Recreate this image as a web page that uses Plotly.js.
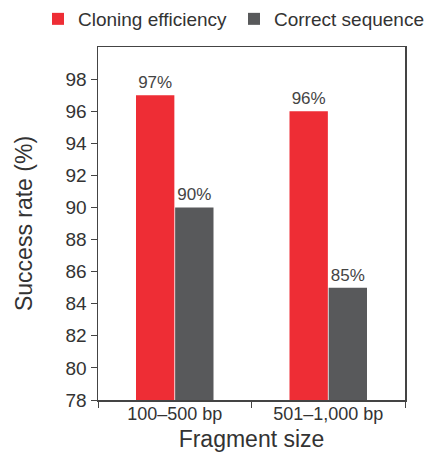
<!DOCTYPE html>
<html>
<head>
<meta charset="utf-8">
<script src="https://cdn.plot.ly/plotly-3.0.1.min.js"></script>
<style>html,body{margin:0;padding:0;background:#fff;}#chart{width:425px;height:461px;}</style>
</head>
<body>
<div id="chart"></div>
<script>
var categories = ["100–500 bp", "501–1,000 bp"];
var seriesNames = ["Cloning efficiency", "Correct sequence"];
var cloningEfficiency = [97, 96];
var correctSequence = [90, 85];
var yTicks = [78, 80, 82, 84, 86, 88, 90, 92, 94, 96, 98];

var fontFam = "Liberation Sans, Arial, sans-serif";
function pct(arr){ return arr.map(function(v){ return v + "%"; }); }

var traces = [
  {type: "bar", name: seriesNames[0], x: categories, y: cloningEfficiency, legend: "legend",
   marker: {color: "#EE2D35"}, text: pct(cloningEfficiency), textposition: "outside",
   cliponaxis: false, textfont: {size: 17, color: "#444", family: fontFam}},
  {type: "bar", name: seriesNames[1], x: categories, y: correctSequence, legend: "legend2",
   marker: {color: "#58595B"}, text: pct(correctSequence), textposition: "outside",
   cliponaxis: false, textfont: {size: 17, color: "#444", family: fontFam}}
];

function legendAt(xpx) {
  return {orientation: "h", xref: "container", yref: "container",
          x: xpx / 425, xanchor: "left", y: 1.0, yanchor: "top",
          font: {size: 19, color: "#333"}, itemwidth: 30, itemclick: false,
          bgcolor: "rgba(0,0,0,0)"};
}

var layout = {
  width: 425, height: 461,
  margin: {l: 98, r: 20, t: 47, b: 61, autoexpand: false},
  paper_bgcolor: "#fff", plot_bgcolor: "#fff",
  font: {family: fontFam, color: "#333", size: 19},
  barmode: "group", bargap: 0.49, bargroupgap: 0.02,
  showlegend: true,
  legend: legendAt(38),
  legend2: legendAt(234),
  xaxis: {
    type: "category", range: [-0.5, 1.5],
    showline: true, linecolor: "#444", linewidth: 1.5, mirror: true,
    ticks: "outside", tickson: "boundaries", ticklen: 6, tickcolor: "#444",
    ticklabelstandoff: -3,
    tickfont: {size: 18, color: "#333"},
    title: {text: "Fragment size", font: {size: 23, color: "#333"}, standoff: 8}
  },
  yaxis: {
    range: [78, 100], tickvals: yTicks,
    showline: true, linecolor: "#444", linewidth: 1.5, mirror: true,
    ticks: "outside", ticklen: 6, tickcolor: "#444", showgrid: false, zeroline: false,
    tickfont: {size: 19, color: "#333"},
    title: {text: "Success rate (%)", font: {size: 23, color: "#333"}, standoff: 26}
  }
};

Plotly.newPlot("chart", traces, layout, {displayModeBar: false, staticPlot: true});
</script>
</body>
</html>
